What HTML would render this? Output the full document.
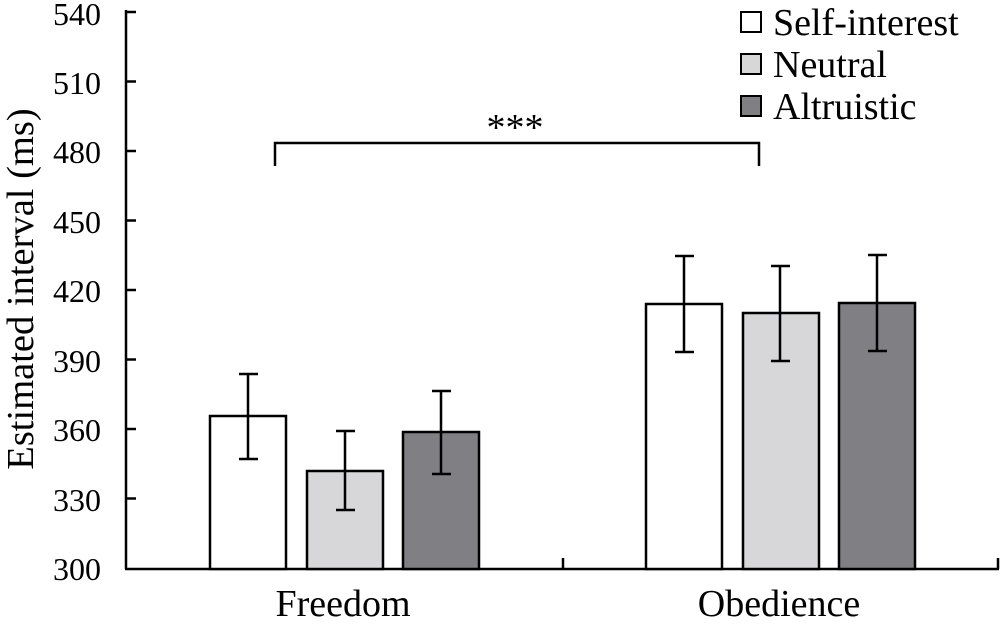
<!DOCTYPE html><html><head><style>body{margin:0;background:#fff}</style></head><body>
<svg width="1000" height="623" xmlns="http://www.w3.org/2000/svg" font-family="Liberation Serif, serif" fill="#000">
<g stroke="#000" stroke-width="2.5" fill="none">
<line x1="126" y1="10" x2="126" y2="569"/>
<line x1="125" y1="569" x2="999" y2="569"/>
<line x1="563" y1="569" x2="563" y2="558"/>
<line x1="998" y1="569" x2="998" y2="558"/>
<line x1="126" y1="12" x2="136" y2="12"/><line x1="126" y1="81.5" x2="136" y2="81.5"/><line x1="126" y1="151" x2="136" y2="151"/><line x1="126" y1="220.5" x2="136" y2="220.5"/><line x1="126" y1="290" x2="136" y2="290"/><line x1="126" y1="359.5" x2="136" y2="359.5"/><line x1="126" y1="429" x2="136" y2="429"/><line x1="126" y1="498.5" x2="136" y2="498.5"/>
<rect x="210" y="416" width="76" height="153" fill="#fff"/>
<rect x="307" y="471" width="76" height="98" fill="#d7d6d9"/>
<rect x="403" y="432" width="76" height="137" fill="#807f84"/>
<rect x="646" y="304" width="76" height="265" fill="#fff"/>
<rect x="743" y="313" width="76" height="256" fill="#d7d6d9"/>
<rect x="839" y="303" width="76" height="266" fill="#807f84"/>
<path d="M248 374V459M239 374H258M239 459H258"/>
<path d="M345 431V510M336 431H355M336 510H355"/>
<path d="M441 391V474M432 391H451M432 474H451"/>
<path d="M684 256V352M675 256H694M675 352H694"/>
<path d="M780 266V361M771 266H790M771 361H790"/>
<path d="M877 255V351M868 255H887M868 351H887"/>
<path d="M275 166V143H759V166"/>
<rect x="741" y="12" width="20" height="20" fill="#fff" stroke-width="2"/>
<rect x="741" y="54" width="20" height="20" fill="#d7d6d9" stroke-width="2"/>
<rect x="741" y="96" width="20" height="20" fill="#807f84" stroke-width="2"/>
</g>
<g font-size="32" text-anchor="end">
<text x="101" y="25">540</text><text x="101" y="94">510</text><text x="101" y="163">480</text><text x="101" y="233">450</text><text x="101" y="302">420</text><text x="101" y="372">390</text><text x="101" y="441">360</text><text x="101" y="511">330</text><text x="101" y="580">300</text>
</g>
<text x="343" y="616" font-size="38" text-anchor="middle">Freedom</text>
<text x="779" y="616" font-size="38" text-anchor="middle">Obedience</text>
<text transform="translate(33 289) rotate(-90)" font-size="38.5" text-anchor="middle">Estimated interval (ms)</text>
<text x="515" y="140" font-size="38" text-anchor="middle">***</text>
<g font-size="38"><text x="773" y="35">Self-interest</text><text x="773" y="77">Neutral</text><text x="773" y="119">Altruistic</text></g>
</svg></body></html>
